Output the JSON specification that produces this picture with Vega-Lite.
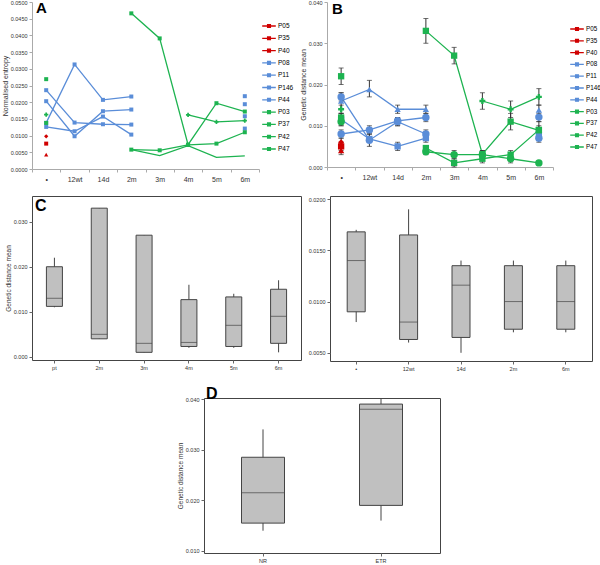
{
  "$schema": "https://vega.github.io/schema/vega-lite/v6.json",
  "padding": {"left": 1, "top": 0, "right": 2, "bottom": 0},
  "spacing": 13,
  "config": {
    "font": "Liberation Sans",
    "view": {"stroke": "#444", "strokeWidth": 1},
    "axis": {"grid": false, "labelColor": "#333", "domainColor": "#666", "tickColor": "#666", "tickSize": 3, "labelFontSize": 5.5, "titleFontSize": 6.5, "titleFontWeight": "normal", "titleColor": "#333", "labelPadding": 2, "titlePadding": 2},
    "title": {"fontWeight": "bold", "anchor": "start", "frame": "group", "color": "#000"}
  },
  "datasets": {
    "A": [
      {"s": "P05", "t": "•", "v": 0.0098, "g": "a"},
      {"s": "P35", "t": "•", "v": 0.0076, "g": "a"},
      {"s": "P40", "t": "•", "v": 0.0043, "g": "a"},
      {"s": "P08", "t": "•", "v": 0.0138, "g": "a"},
      {"s": "P08", "t": "12wt", "v": 0.0313, "g": "a"},
      {"s": "P08", "t": "14d", "v": 0.0207, "g": "a"},
      {"s": "P08", "t": "2m", "v": 0.0217, "g": "a"},
      {"s": "P08", "t": "6m", "v": 0.0218, "g": "b"},
      {"s": "P11", "t": "•", "v": 0.0126, "g": "a"},
      {"s": "P11", "t": "12wt", "v": 0.0113, "g": "a"},
      {"s": "P11", "t": "14d", "v": 0.0157, "g": "a"},
      {"s": "P11", "t": "2m", "v": 0.0103, "g": "a"},
      {"s": "P11", "t": "6m", "v": 0.0121, "g": "b"},
      {"s": "P146", "t": "•", "v": 0.0236, "g": "a"},
      {"s": "P146", "t": "12wt", "v": 0.0139, "g": "a"},
      {"s": "P146", "t": "14d", "v": 0.0134, "g": "a"},
      {"s": "P146", "t": "2m", "v": 0.0133, "g": "a"},
      {"s": "P146", "t": "6m", "v": 0.0158, "g": "b"},
      {"s": "P44", "t": "•", "v": 0.0203, "g": "a"},
      {"s": "P44", "t": "12wt", "v": 0.0098, "g": "a"},
      {"s": "P44", "t": "14d", "v": 0.0173, "g": "a"},
      {"s": "P44", "t": "2m", "v": 0.0178, "g": "a"},
      {"s": "P44", "t": "6m", "v": 0.0194, "g": "b"},
      {"s": "P03", "t": "•", "v": 0.0138, "g": "b"},
      {"s": "P03", "t": "2m", "v": 0.0058, "g": "a"},
      {"s": "P03", "t": "3m", "v": 0.0056, "g": "a"},
      {"s": "P03", "t": "4m", "v": 0.0072, "g": "a"},
      {"s": "P03", "t": "5m", "v": 0.0076, "g": "a"},
      {"s": "P03", "t": "6m", "v": 0.011, "g": "a"},
      {"s": "P37", "t": "2m", "v": 0.0058, "g": "a"},
      {"s": "P37", "t": "3m", "v": 0.004, "g": "a"},
      {"s": "P37", "t": "4m", "v": 0.007, "g": "a"},
      {"s": "P37", "t": "5m", "v": 0.0035, "g": "a"},
      {"s": "P37", "t": "6m", "v": 0.0039, "g": "a"},
      {"s": "P42", "t": "•", "v": 0.0163, "g": "b"},
      {"s": "P42", "t": "4m", "v": 0.0162, "g": "a"},
      {"s": "P42", "t": "5m", "v": 0.0141, "g": "a"},
      {"s": "P42", "t": "6m", "v": 0.0145, "g": "a"},
      {"s": "P47", "t": "•", "v": 0.0269, "g": "b"},
      {"s": "P47", "t": "2m", "v": 0.0466, "g": "a"},
      {"s": "P47", "t": "3m", "v": 0.0391, "g": "a"},
      {"s": "P47", "t": "4m", "v": 0.0073, "g": "a"},
      {"s": "P47", "t": "5m", "v": 0.0197, "g": "a"},
      {"s": "P47", "t": "6m", "v": 0.0172, "g": "a"}
    ],
    "B": [
      {"s": "P05", "t": "•", "v": 0.006, "lo": 0.005, "hi": 0.007, "g": "a"},
      {"s": "P35", "t": "•", "v": 0.005, "lo": 0.004, "hi": 0.006, "g": "a"},
      {"s": "P40", "t": "•", "v": 0.004, "lo": 0.003, "hi": 0.005, "g": "a"},
      {"s": "P08", "t": "•", "v": 0.017, "lo": 0.016, "hi": 0.018, "g": "a"},
      {"s": "P08", "t": "12wt", "v": 0.0065, "lo": 0.005, "hi": 0.008, "g": "a"},
      {"s": "P08", "t": "14d", "v": 0.011, "lo": 0.01, "hi": 0.012, "g": "a"},
      {"s": "P08", "t": "2m", "v": 0.008, "lo": 0.007, "hi": 0.009, "g": "a"},
      {"s": "P08", "t": "6m", "v": 0.007, "lo": 0.006, "hi": 0.008, "g": "b"},
      {"s": "P11", "t": "•", "v": 0.0115, "lo": 0.01, "hi": 0.013, "g": "a"},
      {"s": "P11", "t": "12wt", "v": 0.0068, "lo": 0.006, "hi": 0.008, "g": "a"},
      {"s": "P11", "t": "14d", "v": 0.005, "lo": 0.004, "hi": 0.006, "g": "a"},
      {"s": "P11", "t": "2m", "v": 0.007, "lo": 0.006, "hi": 0.008, "g": "a"},
      {"s": "P11", "t": "6m", "v": 0.0079, "lo": 0.007, "hi": 0.009, "g": "b"},
      {"s": "P146", "t": "•", "v": 0.008, "lo": 0.007, "hi": 0.009, "g": "a"},
      {"s": "P146", "t": "12wt", "v": 0.009, "lo": 0.008, "hi": 0.01, "g": "a"},
      {"s": "P146", "t": "14d", "v": 0.0112, "lo": 0.01, "hi": 0.012, "g": "a"},
      {"s": "P146", "t": "2m", "v": 0.012, "lo": 0.011, "hi": 0.013, "g": "a"},
      {"s": "P146", "t": "6m", "v": 0.0121, "lo": 0.011, "hi": 0.013, "g": "b"},
      {"s": "P44", "t": "•", "v": 0.016, "lo": 0.014, "hi": 0.018, "g": "a"},
      {"s": "P44", "t": "12wt", "v": 0.0188, "lo": 0.017, "hi": 0.021, "g": "a"},
      {"s": "P44", "t": "14d", "v": 0.014, "lo": 0.013, "hi": 0.015, "g": "a"},
      {"s": "P44", "t": "2m", "v": 0.014, "lo": 0.013, "hi": 0.015, "g": "a"},
      {"s": "P44", "t": "6m", "v": 0.0138, "lo": 0.012, "hi": 0.015, "g": "b"},
      {"s": "P03", "t": "•", "v": 0.011, "lo": 0.01, "hi": 0.012, "g": "b"},
      {"s": "P03", "t": "2m", "v": 0.0037, "lo": 0.003, "hi": 0.0045, "g": "a"},
      {"s": "P03", "t": "3m", "v": 0.003, "lo": 0.002, "hi": 0.004, "g": "a"},
      {"s": "P03", "t": "4m", "v": 0.003, "lo": 0.002, "hi": 0.004, "g": "a"},
      {"s": "P03", "t": "5m", "v": 0.002, "lo": 0.001, "hi": 0.003, "g": "a"},
      {"s": "P03", "t": "6m", "v": 0.001, "lo": 0.001, "hi": 0.001, "g": "a"},
      {"s": "P37", "t": "•", "v": 0.012, "lo": 0.011, "hi": 0.013, "g": "b"},
      {"s": "P37", "t": "2m", "v": 0.0046, "lo": 0.004, "hi": 0.005, "g": "a"},
      {"s": "P37", "t": "3m", "v": 0.001, "lo": 0.0, "hi": 0.002, "g": "a"},
      {"s": "P37", "t": "4m", "v": 0.002, "lo": 0.001, "hi": 0.003, "g": "a"},
      {"s": "P37", "t": "5m", "v": 0.003, "lo": 0.002, "hi": 0.004, "g": "a"},
      {"s": "P37", "t": "6m", "v": 0.009, "lo": 0.008, "hi": 0.01, "g": "a"},
      {"s": "P42", "t": "•", "v": 0.014, "lo": 0.013, "hi": 0.015, "g": "b"},
      {"s": "P42", "t": "4m", "v": 0.016, "lo": 0.014, "hi": 0.018, "g": "a"},
      {"s": "P42", "t": "5m", "v": 0.014, "lo": 0.012, "hi": 0.016, "g": "a"},
      {"s": "P42", "t": "6m", "v": 0.017, "lo": 0.015, "hi": 0.019, "g": "a"},
      {"s": "P47", "t": "•", "v": 0.022, "lo": 0.02, "hi": 0.024, "g": "b"},
      {"s": "P47", "t": "2m", "v": 0.033, "lo": 0.03, "hi": 0.036, "g": "a"},
      {"s": "P47", "t": "3m", "v": 0.027, "lo": 0.025, "hi": 0.029, "g": "a"},
      {"s": "P47", "t": "4m", "v": 0.0031, "lo": 0.002, "hi": 0.004, "g": "a"},
      {"s": "P47", "t": "5m", "v": 0.011, "lo": 0.009, "hi": 0.013, "g": "a"},
      {"s": "P47", "t": "6m", "v": 0.0089, "lo": 0.007, "hi": 0.011, "g": "a"}
    ],
    "C1": [
      {"t": "pt", "lo": 0.011, "q1": 0.0112, "med": 0.013, "q3": 0.02, "hi": 0.022},
      {"t": "2m", "lo": 0.004, "q1": 0.004, "med": 0.005, "q3": 0.033, "hi": 0.033},
      {"t": "3m", "lo": 0.001, "q1": 0.001, "med": 0.003, "q3": 0.027, "hi": 0.027},
      {"t": "4m", "lo": 0.002, "q1": 0.0023, "med": 0.0032, "q3": 0.0127, "hi": 0.016},
      {"t": "5m", "lo": 0.002, "q1": 0.0023, "med": 0.007, "q3": 0.0133, "hi": 0.014},
      {"t": "6m", "lo": 0.001, "q1": 0.003, "med": 0.009, "q3": 0.015, "hi": 0.017}
    ],
    "C2": [
      {"t": "•", "lo": 0.008, "q1": 0.009, "med": 0.014, "q3": 0.0168, "hi": 0.017},
      {"t": "12wt", "lo": 0.006, "q1": 0.0063, "med": 0.008, "q3": 0.0165, "hi": 0.019},
      {"t": "14d", "lo": 0.005, "q1": 0.0065, "med": 0.0116, "q3": 0.0135, "hi": 0.014},
      {"t": "2m", "lo": 0.007, "q1": 0.0073, "med": 0.01, "q3": 0.0135, "hi": 0.014},
      {"t": "6m", "lo": 0.007, "q1": 0.0073, "med": 0.01, "q3": 0.0135, "hi": 0.014}
    ],
    "D": [
      {"t": "NR", "lo": 0.014, "q1": 0.0155, "med": 0.0215, "q3": 0.0285, "hi": 0.034},
      {"t": "ETR", "lo": 0.016, "q1": 0.019, "med": 0.038, "q3": 0.039, "hi": 0.041}
    ]
  },
  "vconcat": [
    {
      "resolve": {"scale": {"color": "independent"}, "legend": {"color": "independent"}},
      "hconcat": [
        {
          "width": 227, "height": 167,
          "view": {"stroke": null},
          "title": {"text": "A", "fontSize": 15, "offset": -16, "dx": 4},
          "data": {"name": "A"},
          "encoding": {
            "x": {"field": "t", "type": "nominal", "scale": {"type": "band", "domain": ["•", "12wt", "14d", "2m", "3m", "4m", "5m", "6m"], "paddingInner": 0, "paddingOuter": 0}, "axis": {"title": null, "tickBand": "extent", "labelAngle": 0, "labelFontSize": 7, "labelPadding": 3, "domainColor": "#aaa", "tickColor": "#aaa"}},
            "y": {"field": "v", "type": "quantitative", "scale": {"domain": [0, 0.05], "nice": false}, "axis": {"title": "Normalised entropy", "values": [0, 0.005, 0.01, 0.015, 0.02, 0.025, 0.03, 0.035, 0.04, 0.045, 0.05], "format": ".4f", "titleFontSize": 7, "domainColor": "#aaa", "tickColor": "#aaa"}},
            "color": {"field": "s", "type": "nominal", "scale": {"domain": ["P05", "P35", "P40", "P08", "P11", "P146", "P44", "P03", "P37", "P42", "P47"], "range": ["#d00000", "#d00000", "#d00000", "#5a8dd8", "#5a8dd8", "#5a8dd8", "#5a8dd8", "#1db350", "#1db350", "#1db350", "#1db350"]},
              "legend": {"orient": "none", "legendX": 232, "legendY": 19, "title": null, "symbolType": "M-1.7,0H1.7M-0.35,-0.35H0.35V0.35H-0.35Z", "symbolSize": 64, "symbolStrokeWidth": 1.3, "labelFontSize": 6.5, "rowPadding": 3.3, "labelOffset": 4, "padding": 0}}
          },
          "layer": [
            {"mark": {"type": "line", "strokeWidth": 1.3}, "encoding": {"detail": {"field": "g"}}},
            {"transform": [{"filter": {"field": "s", "oneOf": ["P35", "P08", "P11", "P146", "P44", "P03", "P47"]}}], "mark": {"type": "point", "shape": "square", "filled": true, "size": 16, "opacity": 1}},
            {"transform": [{"filter": {"field": "s", "oneOf": ["P05"]}}], "mark": {"type": "point", "shape": "diamond", "filled": true, "size": 18, "opacity": 1}},
            {"transform": [{"filter": {"field": "s", "oneOf": ["P40"]}}], "mark": {"type": "point", "shape": "triangle-up", "filled": true, "size": 18, "opacity": 1}},
            {"transform": [{"filter": {"field": "s", "oneOf": ["P42"]}}], "mark": {"type": "point", "shape": "cross", "filled": true, "size": 18, "opacity": 1}}
          ]
        },
        {
          "width": 226, "height": 165,
          "view": {"stroke": null},
          "title": {"text": "B", "fontSize": 15, "offset": -17, "dx": 5},
          "data": {"name": "B"},
          "encoding": {
            "x": {"field": "t", "type": "nominal", "scale": {"type": "band", "domain": ["•", "12wt", "14d", "2m", "3m", "4m", "5m", "6m"], "paddingInner": 0, "paddingOuter": 0}, "axis": {"title": null, "tickBand": "extent", "labelAngle": 0, "labelFontSize": 7, "labelPadding": 3, "domainColor": "#aaa", "tickColor": "#aaa"}}
          },
          "layer": [
            {
              "mark": {"type": "line", "strokeWidth": 1.3},
              "encoding": {
                "y": {"field": "v", "type": "quantitative", "scale": {"domain": [0, 0.04], "nice": false}, "axis": {"title": "Genetic distance mean", "values": [0, 0.005, 0.01, 0.015, 0.02, 0.025, 0.03, 0.035, 0.04], "format": ".3f", "titleFontSize": 7, "domainColor": "#aaa", "tickColor": "#aaa"}},
                "detail": {"field": "g"},
                "color": {"field": "s", "type": "nominal", "scale": {"domain": ["P05", "P35", "P40", "P08", "P11", "P146", "P44", "P03", "P37", "P42", "P47"], "range": ["#d00000", "#d00000", "#d00000", "#5a8dd8", "#5a8dd8", "#5a8dd8", "#5a8dd8", "#1db350", "#1db350", "#1db350", "#1db350"]},
                  "legend": {"orient": "none", "legendX": 245, "legendY": 22, "title": null, "symbolType": "M-1.7,0H1.7M-0.35,-0.35H0.35V0.35H-0.35Z", "symbolSize": 64, "symbolStrokeWidth": 1.3, "labelFontSize": 6.3, "rowPadding": 2.8, "labelOffset": 4, "padding": 0}}
              }
            },
            {
              "mark": {"type": "rule", "color": "#333", "strokeWidth": 1},
              "encoding": {"y": {"field": "lo", "type": "quantitative"}, "y2": {"field": "hi"}}
            },
            {
              "mark": {"type": "tick", "color": "#333", "thickness": 1, "size": 5},
              "encoding": {"y": {"field": "lo", "type": "quantitative"}}
            },
            {
              "mark": {"type": "tick", "color": "#333", "thickness": 1, "size": 5},
              "encoding": {"y": {"field": "hi", "type": "quantitative"}}
            },
            {
              "transform": [{"filter": {"field": "s", "oneOf": ["P35", "P11", "P37", "P47"]}}],
              "mark": {"type": "point", "shape": "square", "filled": true, "size": 40, "opacity": 1},
              "encoding": {"y": {"field": "v", "type": "quantitative"}, "color": {"field": "s", "type": "nominal", "legend": null}}
            },
            {
              "transform": [{"filter": {"field": "s", "oneOf": ["P08", "P146", "P03"]}}],
              "mark": {"type": "point", "shape": "circle", "filled": true, "size": 55, "opacity": 1},
              "encoding": {"y": {"field": "v", "type": "quantitative"}, "color": {"field": "s", "type": "nominal", "legend": null}}
            },
            {
              "transform": [{"filter": {"field": "s", "oneOf": ["P40", "P44"]}}],
              "mark": {"type": "point", "shape": "triangle-up", "filled": true, "size": 40, "opacity": 1},
              "encoding": {"y": {"field": "v", "type": "quantitative"}, "color": {"field": "s", "type": "nominal", "legend": null}}
            },
            {
              "transform": [{"filter": {"field": "s", "oneOf": ["P05"]}}],
              "mark": {"type": "point", "shape": "diamond", "filled": true, "size": 35, "opacity": 1},
              "encoding": {"y": {"field": "v", "type": "quantitative"}, "color": {"field": "s", "type": "nominal", "legend": null}}
            },
            {
              "transform": [{"filter": {"field": "s", "oneOf": ["P42"]}}],
              "mark": {"type": "point", "shape": "cross", "filled": true, "size": 35, "opacity": 1},
              "encoding": {"y": {"field": "v", "type": "quantitative"}, "color": {"field": "s", "type": "nominal", "legend": null}}
            }
          ]
        }
      ],
      "spacing": 5
    },
    {
      "hconcat": [
        {
          "width": 269, "height": 164,
          "title": {"text": "C", "fontSize": 16, "offset": -18, "dx": 3},
          "data": {"name": "C1"},
          "encoding": {
            "x": {"field": "t", "type": "nominal", "scale": {"type": "band", "domain": ["pt", "2m", "3m", "4m", "5m", "6m"], "paddingInner": 0, "paddingOuter": 0}, "axis": {"title": null, "labelAngle": 0, "domain": false}}
          },
          "layer": [
            {
              "mark": {"type": "rule", "color": "#444"},
              "encoding": {
                "y": {"field": "lo", "type": "quantitative", "scale": {"domain": [-0.0007, 0.0357], "nice": false}, "axis": {"title": "Genetic distance mean", "values": [0, 0.005, 0.01, 0.015, 0.02, 0.025, 0.03, 0.035], "format": ".3f", "domain": false}},
                "y2": {"field": "hi"}
              }
            },
            {
              "mark": {"type": "bar", "size": 16, "fill": "#c0c0c0", "stroke": "#444", "strokeWidth": 1},
              "encoding": {"y": {"field": "q1", "type": "quantitative"}, "y2": {"field": "q3"}}
            },
            {
              "mark": {"type": "tick", "size": 16, "thickness": 1, "color": "#444"},
              "encoding": {"y": {"field": "med", "type": "quantitative"}}
            }
          ]
        },
        {
          "width": 262, "height": 165,
          "data": {"name": "C2"},
          "encoding": {
            "x": {"field": "t", "type": "nominal", "scale": {"type": "band", "domain": ["•", "12wt", "14d", "2m", "6m"], "paddingInner": 0, "paddingOuter": 0}, "axis": {"title": null, "labelAngle": 0, "domain": false}}
          },
          "layer": [
            {
              "mark": {"type": "rule", "color": "#444"},
              "encoding": {
                "y": {"field": "lo", "type": "quantitative", "scale": {"domain": [0.0042, 0.0203], "nice": false}, "axis": {"title": null, "values": [0.005, 0.0075, 0.01, 0.0125, 0.015, 0.0175, 0.02], "format": ".4f", "domain": false}},
                "y2": {"field": "hi"}
              }
            },
            {
              "mark": {"type": "bar", "size": 18, "fill": "#c0c0c0", "stroke": "#444", "strokeWidth": 1},
              "encoding": {"y": {"field": "q1", "type": "quantitative"}, "y2": {"field": "q3"}}
            },
            {
              "mark": {"type": "tick", "size": 18, "thickness": 1, "color": "#444"},
              "encoding": {"y": {"field": "med", "type": "quantitative"}}
            }
          ]
        }
      ],
      "spacing": 5
    },
    {
      "hconcat": [
        {
          "width": 144, "height": 10,
          "view": {"stroke": null},
          "data": {"values": []},
          "mark": {"type": "point", "opacity": 0}
        },
        {
          "width": 236, "height": 155,
          "title": {"text": "D", "fontSize": 16, "offset": -5, "dx": 2},
          "data": {"name": "D"},
          "encoding": {
            "x": {"field": "t", "type": "nominal", "scale": {"type": "band", "domain": ["NR", "ETR"], "paddingInner": 0, "paddingOuter": 0}, "axis": {"title": null, "labelAngle": 0, "domain": false}}
          },
          "layer": [
            {
              "mark": {"type": "rule", "color": "#444", "clip": true},
              "encoding": {
                "y": {"field": "lo", "type": "quantitative", "scale": {"domain": [0.0096, 0.0402], "nice": false}, "axis": {"title": "Genetic distance mean", "values": [0.01, 0.015, 0.02, 0.025, 0.03, 0.035, 0.04], "format": ".3f", "domain": false}},
                "y2": {"field": "hi"}
              }
            },
            {
              "mark": {"type": "bar", "size": 43, "fill": "#c0c0c0", "stroke": "#444", "strokeWidth": 1},
              "encoding": {"y": {"field": "q1", "type": "quantitative"}, "y2": {"field": "q3"}}
            },
            {
              "mark": {"type": "tick", "size": 43, "thickness": 1, "color": "#444"},
              "encoding": {"y": {"field": "med", "type": "quantitative"}}
            }
          ]
        }
      ],
      "spacing": 0
    }
  ]
}
